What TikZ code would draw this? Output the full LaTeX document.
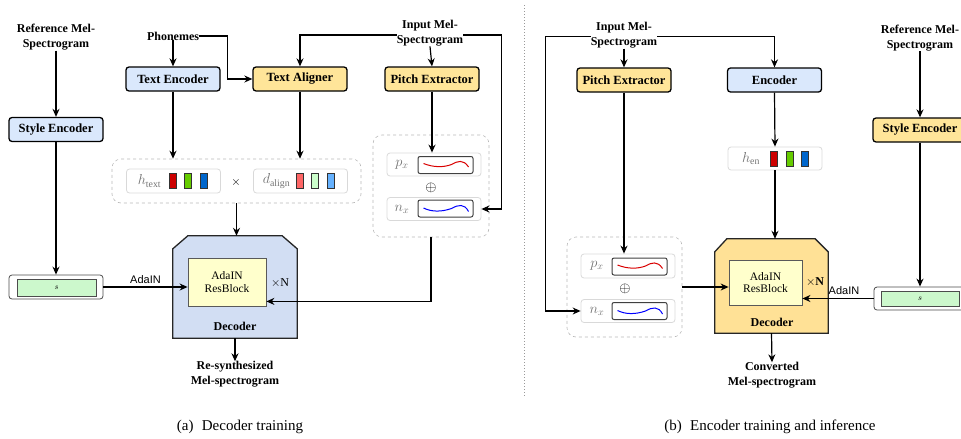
\documentclass[tikz,border=0pt]{standalone}
\usepackage{fontspec}
\setmainfont{Liberation Serif}
\newfontfamily\lsans{Liberation Sans}
\usetikzlibrary{arrows.meta,calc}
\definecolor{lblue}{HTML}{DAE8FC}
\definecolor{lorange}{HTML}{FFE599}
\definecolor{decblue}{HTML}{D2DEF3}
\definecolor{decorange}{HTML}{FFE196}
\definecolor{ryellow}{HTML}{FFFFCC}
\definecolor{sgreen}{HTML}{CCF8CC}
\definecolor{chipred}{HTML}{CC0000}
\definecolor{chipgreen}{HTML}{66CC00}
\definecolor{chipblue}{HTML}{0066CC}
\definecolor{lchipred}{HTML}{FF6666}
\definecolor{lchipgreen}{HTML}{CCFFCC}
\definecolor{lchipblue}{HTML}{66B2FF}
\tikzset{
 lab/.style={font=\bfseries\fontsize{12}{15}\selectfont, align=center, inner sep=0},
 blk/.style={draw=black, line width=1.3pt, rounded corners=3pt, minimum width=94pt, minimum height=24pt, inner sep=0, font=\bfseries\fontsize{12.5}{14}\selectfont},
 bluebk/.style={blk, fill=lblue},
 orbk/.style={blk, fill=lorange},
 arr/.style={line width=1.2pt, -{Stealth[length=8pt,width=7pt]}},
 grp/.style={draw=gray!55, dashed, line width=0.6pt, rounded corners=9pt, inner sep=0},
 vbox/.style={draw=gray!30, line width=0.8pt, rounded corners=3pt, inner sep=0, minimum width=94pt, minimum height=24pt},
 crv/.style={draw=black!75, line width=1pt, rounded corners=2pt, fill=white, minimum width=55pt, minimum height=17pt, inner sep=0},
 chip/.style={draw=black!80, line width=0.6pt, minimum width=7pt, minimum height=15pt, inner sep=0},
 mlab/.style={text=black!55, font=\fontsize{14}{15}\selectfont, inner sep=0},
 rbk/.style={draw=gray!70!black, line width=0.8pt, fill=ryellow, align=center, inner sep=0, font=\fontsize{11.5}{12.5}\selectfont},
 ada/.style={font=\lsans\fontsize{11}{12}\selectfont, inner sep=1pt},
 souter/.style={draw=black!70, line width=0.8pt, rounded corners=3pt, fill=white, inner sep=0},
 sinner/.style={draw=black!70, line width=0.6pt, fill=sgreen, inner sep=0, font=\fontsize{8}{9}\selectfont},
 deco/.style={line width=1.3pt, draw=black!85},
 captxt/.style={font=\fontsize{15}{17}\selectfont, inner sep=0},
 redc/.style={draw=red!85!black, line width=1pt},
 bluec/.style={draw=blue, line width=1pt},
}
\begin{document}
\begin{tikzpicture}[x=1pt,y=-1pt]
\useasboundingbox (0,0) rectangle (961,439);

% ================= (a) =================
\node[lab] (refa) at (56,37.5) {Reference Mel-\\Spectrogram};
\node[bluebk] (sea) at (56,129.5) {Style Encoder};
\node[souter, minimum width=94pt, minimum height=24pt] (sa) at (56,287) {};
\node[sinner, minimum width=79pt, minimum height=17pt] (sai) at (56.5,287.5) {$s$};

\node[lab] (phon) at (173,36) {Phonemes};
\node[bluebk] (tea) at (173,79) {Text Encoder};
\node[orbk] (taa) at (300,79) {Text Aligner};
\node[orbk] (pea) at (432,79) {Pitch Extractor};
\node[lab, font=\bfseries\fontsize{12}{15.5}\selectfont] (inmela) at (430,33) {Input Mel-\\Spectrogram};

% group 1
\node[grp, minimum width=249pt, minimum height=44pt] (g1) at (236.5,181) {};
\node[vbox] (hta) at (173.5,181) {};
\node[mlab] (htal) at ([xshift=-24pt]hta.center) {$h_{\mathrm{text}}$};
\node[chip, fill=chipred] (hta1) at ([xshift=-1pt]hta.center) {};
\node[chip, fill=chipgreen] (hta2) at ([xshift=14.5pt]hta.center) {};
\node[chip, fill=chipblue] (hta3) at ([xshift=30pt]hta.center) {};
\node[font=\fontsize{13}{14}\selectfont, inner sep=0] (times) at (236,182) {$\times$};
\node[vbox] (dla) at (300.5,181) {};
\node[mlab] (dlal) at ([xshift=-24pt]dla.center) {$d_{\mathrm{align}}$};
\node[chip, fill=lchipred] (dla1) at ([xshift=-1pt]dla.center) {};
\node[chip, fill=lchipgreen] (dla2) at ([xshift=14.5pt]dla.center) {};
\node[chip, fill=lchipblue] (dla3) at ([xshift=30pt]dla.center) {};

% pitch group a
\node[grp, minimum width=116pt, minimum height=102pt] (pga) at (431,186) {};
\node[vbox, minimum height=23pt] (pxa) at (434,164.5) {};
\node[mlab] (pxal) at (402,165) {$p_x$};
\node[crv] (pxai) at (445.5,165) {};
\node[font=\fontsize{14}{14}\selectfont, inner sep=0] (opa) at (431,188) {$\oplus$};
\node[vbox, minimum height=23pt] (nxa) at (434,209) {};
\node[mlab] (nxal) at (402,209) {$n_x$};
\node[crv] (nxai) at (445.5,208.5) {};
\begin{scope}[shift={(pxai.center)}]
 \draw[redc] (-22,-1.5) .. controls (-12,2.5) and (-2,2.5) .. (6,-0.5) .. controls (12,-4) and (18,-6) .. (23,2);
\end{scope}
\begin{scope}[shift={(nxai.center)}]
 \draw[bluec] (-22,-0.5) .. controls (-14,3.5) and (-4,3.5) .. (6,0) .. controls (13,-4) and (19,-5) .. (23,3);
\end{scope}

% decoder a
\node[minimum width=124pt, minimum height=102pt, inner sep=0] (deca) at (235,287) {};
\filldraw[deco, fill=decblue] ([yshift=-13pt]deca.north west) -- ([xshift=15pt]deca.north west) -- ([xshift=-15pt]deca.north east) -- ([yshift=-13pt]deca.north east) -- (deca.south east) -- (deca.south west) -- cycle;
\node[rbk, minimum width=78pt, minimum height=48pt] (rba) at (227,282) {AdaIN\\ResBlock};
\node[font=\fontsize{12}{13}\selectfont, inner sep=0] (xna) at (280,283) {$\times$N};
\node[lab] (decla) at (235,326) {Decoder};
\node[lab] (resyn) at (235,374.5) {Re-synthesized\\Mel-spectrogram};

% connectors a
\draw[arr] (refa) -- (sea);
\draw[arr] (sea.south) -- (sa.north);
\draw[arr] (sa.east) -- (sa.east -| rba.west) node[midway, above=2pt, ada] (adaa) {AdaIN};
\draw[arr] (phon) -- (tea);
\draw[arr] (phon.east) -| ($(taa.west)+(-25,0)$) -- (taa.west);
\draw[arr] ([yshift=-2pt]inmela.west) -| (taa.north);
\draw[arr] (inmela.south) -- (pea.north);
\draw[arr] ([yshift=-2pt]inmela.east) -| ($(nxa.east)+(20,0)$) -- (nxa.east);
\draw[arr] (tea.south) -- (tea.south |- g1.north);
\draw[arr] (taa.south) -- (taa.south |- g1.north);
\draw[arr] (pea.south) -- (pea.south |- pxa.north);
\draw[arr] (g1.south) -- (g1.south |- deca.north);
\draw[arr] (pga.south) |- ([yshift=5pt]rba.south east);
\draw[arr] (deca.south) -- (resyn.north);

% separator
\draw[dotted, line width=1pt, gray!80] (524,5) -- (524,396);

% ================= (b) =================
\node[lab] (inmelb) at (624,35.5) {Input Mel-\\Spectrogram};
\node[orbk] (peb) at (624,80) {Pitch Extractor};
\node[bluebk] (encb) at (774.5,80) {Encoder};
\node[vbox, minimum height=23pt] (henb) at (775,158.5) {};
\node[mlab] (henbl) at ([xshift=-24pt]henb.center) {$h_{\mathrm{en}}$};
\node[chip, fill=chipred] (henb1) at ([xshift=-1pt]henb.center) {};
\node[chip, fill=chipgreen] (henb2) at ([xshift=14.5pt]henb.center) {};
\node[chip, fill=chipblue] (henb3) at ([xshift=30pt]henb.center) {};
\node[lab] (refb) at (920,38) {Reference Mel-\\Spectrogram};
\node[orbk] (seb) at (920,130) {Style Encoder};
\node[souter, minimum width=92pt, minimum height=23pt] (sb) at (920,298.5) {};
\node[sinner, minimum width=78pt, minimum height=15pt] (sbi) at (920,298.5) {$s$};

% pitch group b
\node[grp, minimum width=115pt, minimum height=100pt] (pgb) at (624.5,287) {};
\node[vbox] (pxb) at (628,266) {};
\node[mlab] (pxbl) at (597,266) {$p_x$};
\node[crv] (pxbi) at (639.5,266.5) {};
\node[font=\fontsize{14}{14}\selectfont, inner sep=0] (opb) at (625,289) {$\oplus$};
\node[vbox, minimum height=23pt] (nxb) at (628,311) {};
\node[mlab] (nxbl) at (597,311) {$n_x$};
\node[crv] (nxbi) at (639.5,311) {};
\begin{scope}[shift={(pxbi.center)}]
 \draw[redc] (-22,-1.5) .. controls (-12,2.5) and (-2,2.5) .. (6,-0.5) .. controls (12,-4) and (18,-6) .. (23,2);
\end{scope}
\begin{scope}[shift={(nxbi.center)}]
 \draw[bluec] (-22,-0.5) .. controls (-14,3.5) and (-4,3.5) .. (6,0) .. controls (13,-4) and (19,-5) .. (23,3);
\end{scope}

% decoder b
\node[minimum width=113pt, minimum height=94pt, inner sep=0] (decb) at (771.5,286) {};
\filldraw[deco, fill=decorange] ([yshift=-13pt]decb.north west) -- ([xshift=12pt]decb.north west) -- ([xshift=-13pt]decb.north east) -- ([yshift=-13pt]decb.north east) -- (decb.south east) -- (decb.south west) -- cycle;
\node[rbk, minimum width=73pt, minimum height=45pt] (rbb) at (765.5,282.5) {AdaIN\\ResBlock};
\node[font=\bfseries\fontsize{12}{13}\selectfont, inner sep=0] (xnb) at (815,282) {$\times$N};
\node[lab] (declb) at (772,322) {Decoder};
\node[lab] (conv) at (772,375.5) {Converted\\Mel-spectrogram};

% connectors b
\draw[arr] (inmelb.south) -- (peb.north);
\draw[arr] ([yshift=-1pt]inmelb.west) -| ($(nxb.west)+(-35,0)$) -- (nxb.west);
\draw[arr] ([yshift=-1pt]inmelb.east) -| (encb.north);
\draw[arr] (encb.south) -- (henb.north);
\draw[arr] (henb.south) -- (henb.south |- decb.north);
\draw[arr] (peb.south) -- (peb.south |- pxb.north);
\draw[arr] (pgb.east) -- (pgb.east -| rbb.west);
\draw[arr] (refb) -- (seb);
\draw[arr] (seb.south) -- (sb.north);
\draw[arr] (sb.west) -- (sb.west -| rbb.east) node[midway, above=2pt, ada, xshift=6pt] (adab) {AdaIN};
\draw[arr] (decb.south) -- (conv.north);

% captions
\node[captxt] (capa) at (240,427) {(a)\hspace{0.55em}Decoder training};
\node[captxt] (capb) at (770,427) {(b)\hspace{0.55em}Encoder training and inference};
\end{tikzpicture}
\end{document}
